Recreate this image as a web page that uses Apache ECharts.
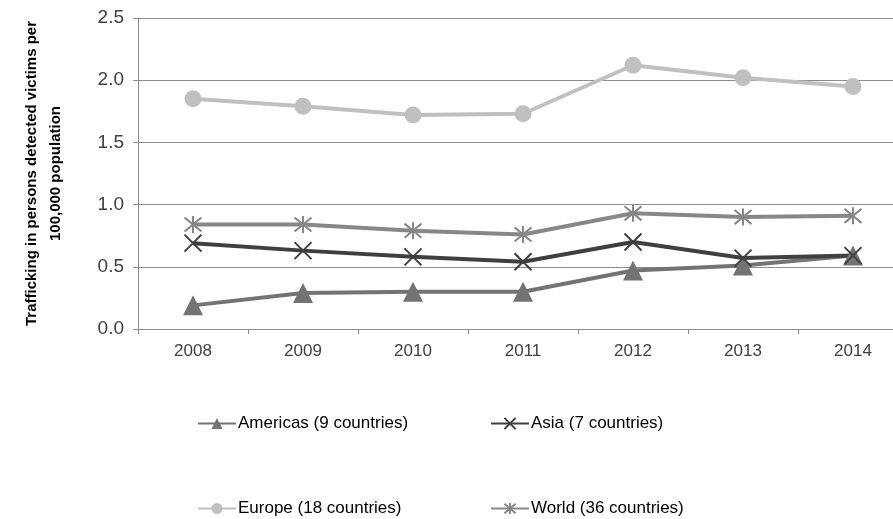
<!DOCTYPE html>
<html>
<head>
<meta charset="utf-8">
<script src="https://cdn.jsdelivr.net/npm/echarts@6/dist/echarts.min.js"></script>
<style>
  html, body { margin: 0; padding: 0; background: #fff; }
  #main { width: 893px; height: 519px; }
</style>
</head>
<body>
<div id="main"></div>
<script>
// 数据
var years = ["2008", "2009", "2010", "2011", "2012", "2013", "2014"];
var americas = [0.19, 0.29, 0.30, 0.30, 0.47, 0.51, 0.59];
var asia = [0.69, 0.63, 0.58, 0.54, 0.70, 0.57, 0.59];
var europe = [1.85, 1.79, 1.72, 1.73, 2.12, 2.02, 1.95];
var world = [0.84, 0.84, 0.79, 0.76, 0.93, 0.90, 0.91];
var yTicks = ["0.0", "0.5", "1.0", "1.5", "2.0", "2.5"];

var font = "Liberation Sans";
var xMark = "path://M0,0L10,10M10,0L0,10";
var starMark = "path://M0,0L10,10M10,0L0,10M5,-1L5,11";

var myChart = echarts.init(document.getElementById("main"));

function legendAt(name, left, top) {
  return {
    data: [name],
    left: left,
    top: top,
    itemWidth: 38,
    itemHeight: 14,
    itemGap: 0,
    textStyle: { fontFamily: font, fontSize: 17, color: "#000", padding: [0, 0, 0, -3] }
  };
}

var option = {
  backgroundColor: "#fff",
  animation: false,
  legend: [
    legendAt("Americas (9 countries)", 192, 410),
    legendAt("Asia (7 countries)", 485, 410),
    legendAt("Europe (18 countries)", 192, 495),
    legendAt("World (36 countries)", 485, 495)
  ],
  grid: { left: 138, top: 18, width: 770, height: 311, outerBoundsMode: "none", containLabel: false },
  xAxis: {
    type: "category",
    data: years,
    boundaryGap: true,
    axisLine: { lineStyle: { color: "#8c8c8c", width: 1 } },
    axisTick: { show: true, length: 5, lineStyle: { color: "#8c8c8c" } },
    axisLabel: { fontFamily: font, fontSize: 17, color: "#404040", margin: 14 }
  },
  yAxis: {
    type: "value",
    min: 0,
    max: 2.5,
    interval: 0.5,
    name: "Trafficking in persons detected victims per\n100,000 population",
    nameLocation: "middle",
    nameRotate: 90,
    nameGap: 70,
    nameTextStyle: { fontFamily: font, fontSize: 15, fontWeight: "bold", color: "#000", lineHeight: 24 },
    axisLine: { show: true, lineStyle: { color: "#8c8c8c" } },
    axisTick: { show: true, length: 5, lineStyle: { color: "#8c8c8c" } },
    splitLine: { lineStyle: { color: "#8c8c8c", width: 1 } },
    axisLabel: {
      fontFamily: font,
      fontSize: 19,
      color: "#404040",
      margin: 14,
      formatter: function (v) { return yTicks[Math.round(v / 0.5)]; }
    }
  },
  series: [
    {
      name: "Americas (9 countries)",
      type: "line",
      data: americas,
      symbol: "triangle",
      symbolSize: 20,
      lineStyle: { color: "#737373", width: 4 },
      itemStyle: { color: "#737373" }
    },
    {
      name: "Asia (7 countries)",
      type: "line",
      data: asia,
      symbol: xMark,
      symbolSize: 17,
      lineStyle: { color: "#3f3f3f", width: 4 },
      itemStyle: { color: "#3f3f3f", borderColor: "#3f3f3f", borderWidth: 2 }
    },
    {
      name: "Europe (18 countries)",
      type: "line",
      data: europe,
      symbol: "circle",
      symbolSize: 17,
      lineStyle: { color: "#c0c0c0", width: 4 },
      itemStyle: { color: "#c0c0c0" }
    },
    {
      name: "World (36 countries)",
      type: "line",
      data: world,
      symbol: starMark,
      symbolSize: 17,
      lineStyle: { color: "#878787", width: 4 },
      itemStyle: { color: "#878787", borderColor: "#878787", borderWidth: 2 }
    }
  ]
};

myChart.setOption(option);
</script>
</body>
</html>
